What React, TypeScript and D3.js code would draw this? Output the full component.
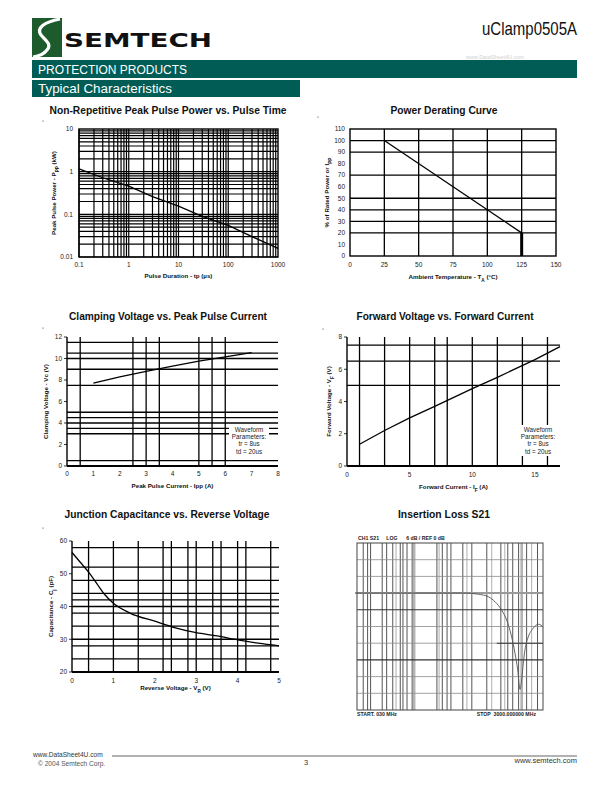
import React from "react";
import * as d3 from "d3";

// ---------- Chart 1: Non-Repetitive Peak Pulse Power vs. Pulse Time ----------
const ppTime = [0.1, 0.3, 1, 3, 10, 30, 100, 300, 1000];
const ppPower = [1.16, 0.72, 0.46, 0.26, 0.155, 0.09, 0.055, 0.03, 0.016];
const ppXTicks = [0.1, 1, 10, 100, 1000];
const ppXLabels = ["0.1", "1", "10", "100", "1000"];
const ppYTicks = [0.01, 0.1, 1, 10];
const ppYLabels = ["0.01", "0.1", "1", "10"];

// ---------- Chart 2: Power Derating Curve ----------
const drTemp = [25, 125, 125];
const drPct = [100, 20, 0];
const drXTicks = [0, 25, 50, 75, 100, 125, 150];
const drYTicks = [0, 10, 20, 30, 40, 50, 60, 70, 80, 90, 100, 110];
const drGridX = [25, 50, 75, 100, 125];
const drGridY = [20, 30, 40, 50, 70, 90, 100];

// ---------- Chart 3: Clamping Voltage vs. Peak Pulse Current ----------
const cvCurrent = [1, 2, 3, 4, 5, 6, 7];
const cvVoltage = [7.7, 8.3, 8.8, 9.3, 9.75, 10.15, 10.55];
const cvXTicks = [0, 1, 2, 3, 4, 5, 6, 7, 8];
const cvYTicks = [0, 2, 4, 6, 8, 10, 12];
const cvGridX = [0.5, 2.5, 3, 3.5, 5, 5.5, 6];
const cvGridY = [0.5, 3, 3.5, 4, 4.5, 5, 7.5, 9, 10, 10.5, 11.5];

// ---------- Chart 4: Forward Voltage vs. Forward Current ----------
const fvCurrent = [1, 3, 5, 7, 10, 12, 15, 17];
const fvVoltage = [1.35, 2.2, 2.98, 3.7, 4.8, 5.5, 6.6, 7.4];
const fvXTicks = [0, 5, 10, 15];
const fvYTicks = [0, 2, 4, 6, 8];
const fvGridX = [1, 3, 5, 7, 8, 10, 12, 14, 16];
const fvGridY = [5, 6.5, 7.5];

const waveformLines = ["Waveform", "Parameters:", "tr = 8us", "td = 20us"];

// ---------- Chart 5: Junction Capacitance vs. Reverse Voltage ----------
const jcVoltage = [0, 0.2, 0.4, 0.6, 0.8, 1, 1.4, 2, 2.5, 3, 3.5, 4, 4.5, 5];
const jcCap = [56.5, 53.5, 50.5, 47, 43.5, 41, 38, 35.5, 33.5, 32, 31, 29.8, 28.8, 28];
const jcXTicks = [0, 1, 2, 3, 4, 5];
const jcYTicks = [20, 30, 40, 50, 60];
const jcGridX = [0.4, 1, 1.6, 2.2, 2.4, 2.8, 3, 3.4, 3.6, 4, 4.2, 4.8];
const jcGridY = [24, 28, 30, 34, 38, 40, 42, 44, 48, 52, 58];

// ---------- Chart 6: Insertion Loss S21 ----------
const ilFreq = [30, 265, 435, 604, 775, 914, 1078, 1221, 1380, 1500, 1603, 1698, 1770, 1842, 1920, 2085, 2360, 2670, 2850, 3000];
const ilDb = [0, 0, 0, -0.4, -1.3, -3.1, -6.1, -9.7, -15.7, -21.6, -27.6, -34.6, -31.2, -25.2, -20.4, -15.7, -12.6, -11.2, -11.5, -12.3];
const ilDarkFreq = [35, 39, 42, 56, 62.5, 72.7, 87.6, 93.6, 103.5, 117.5, 217, 248, 279, 307, 412, 515, 746, 1056, 1254, 1418, 1640, 2000, 2620];
const ilLightFreq = [78.8, 229, 456, 843, 1165, 2265];
const ilThickFreq = [123.5, 1770];
const ilGrayDb = [12, 6, -12, -18, -30, -36];
const ilDarkDb = [-6, -24];
const ilRefDb = 0;
const ilMarkerDb = -18;
const ilMarkerFrom = 956;

const F = "'Liberation Sans', Arial, Helvetica, sans-serif";
const FN = "'Liberation Sans Narrow', 'Arial Narrow', 'Liberation Sans', Arial, sans-serif";
const TEAL = "#005c55";

type Box = { l: number; t: number; r: number; b: number };

function Title({ x, y, w, text }: { x: number; y: number; w: number; text: string }) {
  return (
    <text x={x} y={y} textAnchor="middle" fontFamily={FN} fontWeight="bold" fontSize={11.5}
      textLength={w} lengthAdjust="spacingAndGlyphs" fill="#111">{text}</text>
  );
}

function Sub({ t }: { t: string }) {
  return <tspan baselineShift="sub" fontSize="75%">{t}</tspan>;
}

function GridChart(p: {
  box: Box;
  xs: any; ys: any;
  gridX: number[]; gridY: number[];
  xTicks: number[]; xLabels: string[];
  yTicks: number[]; yLabels: string[];
  full: boolean; leftTicks?: boolean;
  lx: number[]; ly: number[];
  curve?: any;
  xLabY: number; yLabX: number;
  xTitle: React.ReactNode; xTitleY: number;
  yTitle: React.ReactNode; yTitleX: number;
  gridW?: number;
  children?: React.ReactNode;
}) {
  const { box, xs, ys } = p;
  const gw = p.gridW ?? 1.3;
  const line = d3.line<number>()
    .x((_, i) => xs(p.lx[i]))
    .y((_, i) => ys(p.ly[i]))
    .curve(p.curve ?? d3.curveLinear);
  const cy = (box.t + box.b) / 2;
  return (
    <g>
      {p.gridX.map((v, i) => (
        <line key={"gx" + i} x1={xs(v)} x2={xs(v)} y1={box.t} y2={box.b} stroke="#000" strokeWidth={gw} />
      ))}
      {p.gridY.map((v, i) => (
        <line key={"gy" + i} x1={box.l} x2={box.r} y1={ys(v)} y2={ys(v)} stroke="#000" strokeWidth={gw} />
      ))}
      {p.full ? (
        <rect x={box.l} y={box.t} width={box.r - box.l} height={box.b - box.t} fill="none" stroke="#000" strokeWidth={1.4} />
      ) : (
        <g>
          <line x1={box.l} x2={box.l} y1={box.t} y2={box.b} stroke="#000" strokeWidth={1.4} />
          <line x1={box.l} x2={box.r} y1={box.b} y2={box.b} stroke="#000" strokeWidth={1.8} />
        </g>
      )}
      {p.leftTicks && p.yTicks.map((v, i) => (
        <line key={"lt" + i} x1={box.l - 3} x2={box.l} y1={ys(v)} y2={ys(v)} stroke="#000" strokeWidth={0.8} />
      ))}
      {p.children}
      <path d={line(p.lx) ?? ""} fill="none" stroke="#000" strokeWidth={1.3} />
      {p.xTicks.map((v, i) => (
        <text key={"xl" + i} x={xs(v)} y={p.xLabY} textAnchor="middle" fontFamily={F} fontSize={6.5} fill="#222">{p.xLabels[i]}</text>
      ))}
      {p.yTicks.map((v, i) => (
        <text key={"yl" + i} x={p.yLabX} y={ys(v) + 2.3} textAnchor="end" fontFamily={F} fontSize={6.5} fill="#222">{p.yLabels[i]}</text>
      ))}
      <text x={(box.l + box.r) / 2} y={p.xTitleY} textAnchor="middle" fontFamily={F} fontWeight="bold" fontSize={6.2} fill="#111">{p.xTitle}</text>
      <text transform={`translate(${p.yTitleX},${cy}) rotate(-90)`} textAnchor="middle" fontFamily={F} fontWeight="bold" fontSize={6.2} fill="#111">{p.yTitle}</text>
    </g>
  );
}

function Waveform({ cx, top, l, r, b }: { cx: number; top: number; l: number; r: number; b: number }) {
  return (
    <g>
      <rect x={l} y={top} width={r - l} height={b - top} fill="#fff" />
      {waveformLines.map((s, i) => (
        <text key={i} x={cx} y={top + 7 + i * 7.2} textAnchor="middle" fontFamily={F} fontSize={6.3} fill="#222">{s}</text>
      ))}
    </g>
  );
}

function Chart1() {
  const box = { l: 79, t: 129, r: 278, b: 257 };
  const xs = d3.scaleLog().domain([0.1, 1000]).range([box.l, box.r]);
  const ys = d3.scaleLog().domain([0.01, 10]).range([box.b, box.t]);
  const gx: number[] = [];
  for (let d = 0.1; d < 1000; d *= 10) for (let k = 1; k < 10; k++) gx.push(d * k);
  const gy: number[] = [];
  for (let d = 0.01; d < 10; d *= 10) for (let k = 1; k < 10; k++) gy.push(d * k);
  return (
    <GridChart box={box} xs={xs} ys={ys} gridX={gx} gridY={gy} xTicks={ppXTicks} xLabels={ppXLabels}
      yTicks={ppYTicks} yLabels={ppYLabels} full lx={ppTime} ly={ppPower} xLabY={267} yLabX={73}
      xTitle={<tspan>Pulse Duration - tp (µs)</tspan>} xTitleY={278}
      yTitle={<tspan>Peak Pulse Power - P<Sub t="PP" /> (kW)</tspan>} yTitleX={56} gridW={1.2} />
  );
}

function Chart2() {
  const box = { l: 350, t: 129, r: 556, b: 256 };
  const xs = d3.scaleLinear().domain([0, 150]).range([box.l, box.r]);
  const ys = d3.scaleLinear().domain([0, 110]).range([box.b, box.t]);
  return (
    <GridChart box={box} xs={xs} ys={ys} gridX={drGridX} gridY={drGridY} xTicks={drXTicks} xLabels={drXTicks.map(String)}
      yTicks={drYTicks} yLabels={drYTicks.map(String)} full lx={drTemp.slice(0, 2)} ly={drPct.slice(0, 2)} xLabY={267} yLabX={345}
      xTitle={<tspan>Ambient Temperature - T<Sub t="A" /> (°C)</tspan>} xTitleY={279}
      yTitle={<tspan>% of Rated Power or I<Sub t="PP" /></tspan>} yTitleX={329}>
      <line x1={xs(drTemp[1])} x2={xs(drTemp[2])} y1={ys(drPct[1])} y2={ys(drPct[2])} stroke="#000" strokeWidth={3} />
    </GridChart>
  );
}

function Chart3() {
  const box = { l: 67, t: 337, r: 278, b: 466 };
  const xs = d3.scaleLinear().domain([0, 8]).range([box.l, box.r]);
  const ys = d3.scaleLinear().domain([0, 12]).range([box.b, box.t]);
  return (
    <GridChart box={box} xs={xs} ys={ys} gridX={cvGridX} gridY={cvGridY} xTicks={cvXTicks} xLabels={cvXTicks.map(String)}
      yTicks={cvYTicks} yLabels={cvYTicks.map(String)} full={false} leftTicks lx={cvCurrent} ly={cvVoltage} xLabY={476} yLabX={62}
      xTitle={<tspan>Peak Pulse Current - Ipp (A)</tspan>} xTitleY={488}
      yTitle={<tspan>Clamping Voltage - Vc (V)</tspan>} yTitleX={48}>
      <Waveform cx={249} top={425} l={229} r={269} b={456} />
    </GridChart>
  );
}

function Chart4() {
  const box = { l: 347, t: 337, r: 560, b: 466 };
  const xs = d3.scaleLinear().domain([0, 17]).range([box.l, box.r]);
  const ys = d3.scaleLinear().domain([0, 8]).range([box.b, box.t]);
  return (
    <GridChart box={box} xs={xs} ys={ys} gridX={fvGridX} gridY={fvGridY} xTicks={fvXTicks} xLabels={fvXTicks.map(String)}
      yTicks={fvYTicks} yLabels={fvYTicks.map(String)} full={false} leftTicks lx={fvCurrent} ly={fvVoltage} xLabY={477} yLabX={342}
      xTitle={<tspan>Forward Current - I<Sub t="F" /> (A)</tspan>} xTitleY={489}
      yTitle={<tspan>Forward Voltage - V<Sub t="F" /> (V)</tspan>} yTitleX={331}>
      <Waveform cx={538} top={425} l={519} r={557} b={456} />
    </GridChart>
  );
}

function Chart5() {
  const box = { l: 72, t: 541, r: 279, b: 672 };
  const xs = d3.scaleLinear().domain([0, 5]).range([box.l, box.r]);
  const ys = d3.scaleLinear().domain([20, 60]).range([box.b, box.t]);
  return (
    <GridChart box={box} xs={xs} ys={ys} gridX={jcGridX} gridY={jcGridY} xTicks={jcXTicks} xLabels={jcXTicks.map(String)}
      yTicks={jcYTicks} yLabels={jcYTicks.map(String)} full={false} leftTicks lx={jcVoltage} ly={jcCap}
      curve={d3.curveMonotoneX} xLabY={683} yLabX={67}
      xTitle={<tspan>Reverse Voltage - V<Sub t="R" /> (V)</tspan>} xTitleY={690}
      yTitle={<tspan>Capacitance - C<Sub t="j" /> (pF)</tspan>} yTitleX={53} />
  );
}

function Chart6() {
  const box = { l: 357, t: 543, r: 543, b: 710 };
  const xs = d3.scaleLog().domain([30, 3000]).range([box.l, box.r]);
  const ys = d3.scaleLinear().domain([-42, 18]).range([box.b, box.t]);
  const line = d3.line<number>()
    .x((_, i) => xs(ilFreq[i]))
    .y((_, i) => ys(ilDb[i]))
    .curve(d3.curveMonotoneX);
  return (
    <g>
      {ilThickFreq.map((f, i) => (
        <line key={"tf" + i} x1={xs(f)} x2={xs(f)} y1={box.t} y2={box.b} stroke="#b4b4b4" strokeWidth={2.6} />
      ))}
      {ilLightFreq.map((f, i) => (
        <line key={"lf" + i} x1={xs(f)} x2={xs(f)} y1={box.t} y2={box.b} stroke="#9a9a9a" strokeWidth={0.8} />
      ))}
      {ilDarkFreq.map((f, i) => (
        <line key={"df" + i} x1={xs(f)} x2={xs(f)} y1={box.t} y2={box.b} stroke="#2a2a2a" strokeWidth={0.8} />
      ))}
      {ilGrayDb.map((d, i) => (
        <line key={"gd" + i} x1={box.l} x2={box.r} y1={ys(d)} y2={ys(d)} stroke="#8a8a8a" strokeWidth={0.8} />
      ))}
      {ilDarkDb.map((d, i) => (
        <line key={"dd" + i} x1={box.l} x2={box.r} y1={ys(d)} y2={ys(d)} stroke="#333" strokeWidth={1.1} />
      ))}
      <line x1={xs(ilMarkerFrom)} x2={box.r} y1={ys(ilMarkerDb)} y2={ys(ilMarkerDb)} stroke="#333" strokeWidth={1.1} />
      <line x1={box.l - 2} x2={box.r} y1={ys(ilRefDb)} y2={ys(ilRefDb)} stroke="#9a9a9a" strokeWidth={2} />
      <rect x={box.l} y={box.t} width={box.r - box.l} height={box.b - box.t} fill="none" stroke="#444" strokeWidth={1} />
      <path d={line(ilFreq) ?? ""} fill="none" stroke="#555" strokeWidth={0.9} />
      <text x={358} y={540} fontFamily={F} fontWeight="bold" fontSize={5.2} fill="#222" xmlSpace="preserve">CH1 S21     LOG      6 dB / REF 0 dB</text>
      <text x={357} y={716} fontFamily={F} fontWeight="bold" fontSize={5.2} fill="#222">START. 030 MHz</text>
      <text x={536} y={716} textAnchor="end" fontFamily={F} fontWeight="bold" fontSize={5.2} fill="#222" xmlSpace="preserve">STOP  3000.000000 MHz</text>
    </g>
  );
}

function Header() {
  return (
    <g>
      <rect x={32} y={18} width={30} height={39} fill="#1d5a2c" />
      <path d="M60,19 C44,22 36,28 41,35 C46,41 52,44 47,50 C44,54 40,56 33,57" fill="none" stroke="#fff" strokeWidth={3.2} />
      <text x={64} y={47} fontFamily="'DejaVu Sans', Arial, sans-serif" fontWeight="900" fontSize={19}
        textLength={148} lengthAdjust="spacingAndGlyphs" fill="#111">SEMTECH</text>
      <text x={577} y={35} textAnchor="end" fontFamily={FN} fontSize={19} textLength={95}
        lengthAdjust="spacingAndGlyphs" fill="#111">uClamp0505A</text>
      <rect x={32} y={60} width={545} height={18} fill={TEAL} />
      <text x={38} y={73.5} fontFamily={FN} fontSize={12} fill="#fff" textLength={149} lengthAdjust="spacingAndGlyphs">PROTECTION PRODUCTS</text>
      <text x={466} y={59} fontFamily={F} fontSize={5.5} fill="#d0d0d0">www.DataSheet4U.com</text>
      <rect x={32} y={80} width={268} height={17} fill={TEAL} />
      <text x={38} y={93} fontFamily={FN} fontSize={13} fill="#fff" textLength={134} lengthAdjust="spacingAndGlyphs">Typical Characteristics</text>
    </g>
  );
}

function Footer() {
  return (
    <g>
      <line x1={112} x2={577} y1={756} y2={756} stroke="#222" strokeWidth={0.7} />
      <text x={33} y={757} fontFamily={F} fontSize={6.6} fill="#333">www.DataSheet4U.com</text>
      <text x={38} y={765.5} fontFamily={F} fontSize={6.6} fill="#555">© 2004 Semtech Corp.</text>
      <text x={306} y={765} textAnchor="middle" fontFamily={F} fontSize={7.5} fill="#333">3</text>
      <text x={577} y={763} textAnchor="end" fontFamily={F} fontSize={7.5} fill="#333">www.semtech.com</text>
    </g>
  );
}

export default function App() {
  const dots = [[43, 121], [318, 117], [43, 328], [323, 329], [43, 528]];
  return (
    <div style={{ position: "absolute", left: 0, top: 0 }}>
      <svg width={612} height={792} viewBox="0 0 612 792" style={{ display: "block", background: "#fff" }}>
        <rect width={612} height={792} fill="#fff" />
        <Header />
        <Title x={168} y={114} w={237} text="Non-Repetitive Peak Pulse Power vs. Pulse Time" />
        <Title x={444} y={114} w={107} text="Power Derating Curve" />
        <Title x={168} y={320} w={198} text="Clamping Voltage vs. Peak Pulse Current" />
        <Title x={445} y={320} w={177} text="Forward Voltage vs. Forward Current" />
        <Title x={167} y={518} w={205} text="Junction Capacitance vs. Reverse Voltage" />
        <Title x={444} y={518} w={92} text="Insertion Loss S21" />
        <Chart1 />
        <Chart2 />
        <Chart3 />
        <Chart4 />
        <Chart5 />
        <Chart6 />
        {dots.map((d, i) => <circle key={i} cx={d[0]} cy={d[1]} r={0.6} fill="#333" />)}
        <Footer />
      </svg>
    </div>
  );
}
